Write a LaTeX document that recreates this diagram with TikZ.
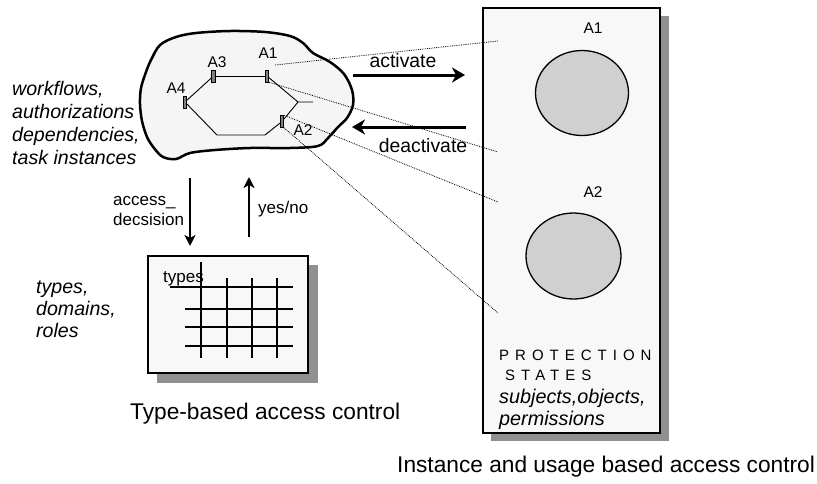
\documentclass[tikz,border=0pt]{standalone}
\usepackage{fontspec}
\setmainfont{Liberation Sans}
\newfontfamily\spacedfont[LetterSpace=40]{Liberation Sans}
\usetikzlibrary{arrows.meta,shapes.geometric}
\definecolor{shadowc}{HTML}{909090}
\definecolor{paper}{HTML}{F8F8F8}
\definecolor{cloudfill}{HTML}{F5F5F5}
\definecolor{circfill}{HTML}{D0D0D0}
\definecolor{markfill}{HTML}{808080}
\begin{document}
\begin{tikzpicture}[x=1pt,y=-1pt,
  lbl/.style={inner sep=0pt, anchor=base west},
  lblc/.style={inner sep=0pt, anchor=base},
  fA/.style={font=\fontsize{15.5}{18}\selectfont},
  fB/.style={font=\fontsize{17}{20}\selectfont},
  fC/.style={font=\fontsize{19.4}{23}\selectfont},
  fI/.style={font=\fontsize{19.6}{23}\selectfont\itshape},
  fT/.style={font=\fontsize{22.7}{26}\selectfont},
  marker/.style={draw, fill=markfill, line width=0.6pt, minimum width=3.5pt, minimum height=12pt, inner sep=0pt},
  hexline/.style={line width=0.9pt},
  dotline/.style={densely dotted, line width=0.8pt},
  bigarrow/.style={line width=3pt, -{Stealth[length=13pt, width=15pt, inset=4pt]}},
  midarrow/.style={line width=2.2pt, -{Stealth[length=11pt, width=11pt, inset=3pt]}},
  frame/.style={draw, line width=2.8pt, fill=paper},
  gridline/.style={line width=1.5pt},
  circ/.style={draw, fill=circfill, line width=1.3pt, ellipse, inner sep=0pt}
]
\useasboundingbox (0,0) rectangle (817,483);

% ---------- cloud ----------
\draw[line width=2.5pt, fill=cloudfill] plot[smooth cycle, tension=0.55] coordinates {
 (151,60) (160,45) (176,37) (196,33) (230,31) (265,32) (290,36) (303,43) (313,53)
 (330,62) (344,74) (352,90) (353,105) (347,118) (338,127) (328,138) (318,146)
 (290,148) (250,148) (215,150) (190,153) (176,159) (163,157) (154,148) (147,137)
 (142,121) (140,104) (141,88) (146,72)};

% markers
\node[marker] (m3) at (213.5,76) {};
\node[marker] (m1) at (267,76) {};
\node[marker] (m4) at (185,102) {};
\node[marker] (m2) at (282,121.5) {};
\coordinate (hb1) at (217,135);
\coordinate (hb2) at (265,135);
\coordinate (jn) at (298,102);
\coordinate (stub) at (313,102);
\draw[hexline] (m3) -- (m1);
\draw[hexline] (m3) -- (m4);
\draw[hexline] (m4) -- (hb1) -- (hb2) -- (m2) -- (jn) -- (stub);
\draw[hexline] (jn) -- (m1);

% labels in cloud
\node[lblc, fA] (la3) at (217,67) {A3};
\node[lblc, fA] (la1) at (268,58) {A1};
\node[lblc, fA] (la4) at (176,93) {A4};
\node[lblc, fA] (la2) at (303,135) {A2};

% ---------- right box ----------
\fill[shadowc] (491,16) rectangle (669,441);
\node[frame, minimum width=177pt, minimum height=425pt, inner sep=0pt] (rbox) at (571.5,220.5) {};
\node[circ, minimum width=93pt, minimum height=85pt] (c1) at (582,93) {};
\node[circ, minimum width=95pt, minimum height=86pt] (c2) at (573.5,256) {};
\node[lblc, fA] (ra1) at (593,33) {A1};
\node[lblc, fA] (ra2) at (593,197) {A2};
\node[lbl, font=\spacedfont\fontsize{15}{18}\selectfont] (prot) at (499,360) {PROTECTION};
\node[lbl, font=\spacedfont\fontsize{15}{18}\selectfont] (stat) at (505,380) {STATES};
\node[lbl, font=\fontsize{19.8}{23}\selectfont\itshape] (subj) at (499,403) {subjects,objects,};
\node[lbl, font=\fontsize{19.8}{23}\selectfont\itshape] (perm) at (499,425) {permissions};

% dotted connectors
\coordinate (d1s) at (275,65);
\coordinate (d1e) at (498,41);
\coordinate (d2e) at (498,152);
\coordinate (d3e) at (498,202);
\coordinate (d4e) at (498,313);
\draw[dotline] (d1s) -- (d1e);
\draw[dotline] (m1.south east) -- (d2e);
\draw[dotline] (m2.north east) -- (d3e);
\draw[dotline] (m2.south east) -- (d4e);

% activate / deactivate
\coordinate (actL) at (353,75);
\coordinate (actR) at (465,75);
\coordinate (deaR) at (466,127);
\coordinate (deaL) at (352,127);
\draw[bigarrow] (actL) -- (actR);
\draw[bigarrow] (deaR) -- (deaL);
\node[lblc, fC] (tact) at (403,67) {activate};
\node[lblc, fC] (tdea) at (423,152) {deactivate};

% left texts
\node[lbl, fI] (w1) at (12,95) {workflows,};
\node[lbl, fI] (w2) at (12,118) {authorizations};
\node[lbl, fI] (w3) at (12,141) {dependencies,};
\node[lbl, fI] (w4) at (12,164) {task instances};

% vertical arrows
\coordinate (dnT) at (190,178);
\coordinate (dnB) at (190,246);
\coordinate (upB) at (249,237);
\coordinate (upT) at (249,177);
\draw[midarrow] (dnT) -- (dnB);
\draw[midarrow] (upB) -- (upT);
\node[lbl, fB] (acc1) at (113,205) {access\_};
\node[lbl, fB] (acc2) at (113,225) {decsision};
\node[lbl, fB] (yn) at (258,213) {yes/no};

% ---------- types box ----------
\fill[shadowc] (157,265) rectangle (318,383);
\node[frame, minimum width=160pt, minimum height=117pt, inner sep=0pt] (tbox) at (228,314.5) {};
\draw[gridline] (201,262) -- (201,358);
\draw[gridline] (227,278) -- (227,358);
\draw[gridline] (252,278) -- (252,358);
\draw[gridline] (277,278) -- (277,358);
\draw[gridline] (170,287) -- (293,287);
\draw[gridline] (185,309) -- (293,309);
\draw[gridline] (185,327) -- (293,327);
\draw[gridline] (185,346) -- (293,346);
\node[lbl, fB] (tty) at (163,282) {types};

\node[lbl, fI] (t1) at (36,293) {types,};
\node[lbl, fI] (t2) at (36,315) {domains,};
\node[lbl, fI] (t3) at (36,337) {roles};

% titles
\node[lbl, fT] (ttl1) at (130,419) {Type-based access control};
\node[lbl, fT] (ttl2) at (397,472) {Instance and usage based access control};
\end{tikzpicture}
\end{document}
